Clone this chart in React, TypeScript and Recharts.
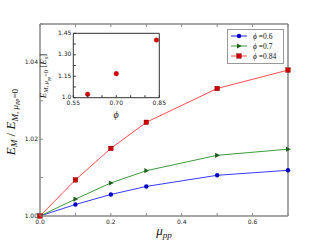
import React from 'react';
import { LineChart, Line, XAxis, YAxis, ScatterChart, Scatter } from 'recharts';

// main plot: E_M / E_M(mu_pp = 0) against mu_pp
const muPP = [0, 0.1, 0.2, 0.3, 0.5, 0.7];
const phi06 = [1.0, 1.003, 1.0056, 1.0077, 1.0106, 1.0119];
const phi07 = [1.0, 1.0044, 1.0086, 1.0118, 1.0158, 1.0174];
const phi084 = [1.0, 1.0094, 1.0176, 1.0244, 1.0332, 1.038];

// inset: E_M at mu_pp = 0 against phi
const insetPhi = [0.6, 0.7, 0.84];
const insetEnergy = [1.024, 1.168, 1.403];

const xTicks = [0, 0.1, 0.2, 0.3, 0.4, 0.5, 0.6, 0.7];
const xTickLabels = ['0.0', '', '0.2', '', '0.4', '', '0.6', ''];
const yTicks = [1.0, 1.01, 1.02, 1.03, 1.04, 1.05];
const yTickLabels = ['1.00', '', '1.02', '', '1.04', ''];
const insetXTicks = [0.55, 0.6, 0.65, 0.7, 0.75, 0.8, 0.85];
const insetXTickLabels = ['0.55', '', '', '0.70', '', '', '0.85'];
const insetYTicks = [1.0, 1.075, 1.15, 1.225, 1.3, 1.375, 1.45];
const insetYTickLabels = ['1.0', '', '1.15', '', '1.30', '', '1.45'];

const data = muPP.map((mu, i) => ({ mu, a: phi06[i], b: phi07[i], c: phi084[i] }));
const insetData = insetPhi.map((phi, i) => ({ phi, e: insetEnergy[i] }));

const SERIES = [
  { key: 'a', label: '0.6', line: '#3a3aff', mark: '#0000c8', shape: 'circle' },
  { key: 'b', label: '0.7', line: '#3c9c3c', mark: '#1c601c', shape: 'triangle' },
  { key: 'c', label: '0.84', line: '#ff4d4d', mark: '#cc0000', shape: 'square' },
];

const tickFont = { fontFamily: 'DejaVu Sans', fontSize: 6, fill: '#222' };
const serif = "'Liberation Serif', 'DejaVu Serif', serif";

const marker = (shape: string, x: number, y: number, color: string) => {
  if (shape === 'circle') return <circle cx={x} cy={y} r={2.2} fill={color} />;
  if (shape === 'triangle')
    return <polygon points={`${x + 2.8},${y} ${x - 2},${y - 2.6} ${x - 2},${y + 2.6}`} fill={color} />;
  return <rect x={x - 2.3} y={y - 2.3} width={4.6} height={4.6} fill={color} stroke="#800000" strokeWidth={0.4} />;
};

const makeDot = (shape: string, color: string) => (props: any) => {
  const { cx, cy, index } = props;
  if (cx == null || cy == null) return <g key={index} />;
  return <g key={index}>{marker(shape, cx, cy, color)}</g>;
};

// ticks drawn inward, labels only where given
const tickFactory = (side: string, ticks: number[], labels: string[], len: number, stroke: string, below = 6.5) => (props: any) => {
  const { x, y, payload } = props;
  const i = ticks.findIndex((t) => Math.abs(t - payload.value) < 1e-6);
  const label = i >= 0 ? labels[i] : '';
  if (side === 'bottom')
    return (
      <g>
        <line x1={x} x2={x} y1={y} y2={y - len} stroke={stroke} />
        {label && <text x={x} y={y + below} textAnchor="middle" {...tickFont}>{label}</text>}
      </g>
    );
  if (side === 'top') return <line x1={x} x2={x} y1={y} y2={y + len} stroke={stroke} />;
  if (side === 'left')
    return (
      <g>
        <line x1={x} x2={x + len} y1={y} y2={y} stroke={stroke} />
        {label && <text x={x - 2} y={y + 1.5} textAnchor="end" {...tickFont}>{label}</text>}
      </g>
    );
  return <line x1={x} x2={x - len} y1={y} y2={y} stroke={stroke} />;
};

const LegendBox = () => (
  <div
    style={{
      position: 'absolute',
      left: 227,
      top: 29,
      width: 57,
      height: 35,
      border: '1.2px solid #999',
      background: '#fff',
      boxSizing: 'border-box',
      padding: '1px 0 0 2px',
    }}
  >
    {SERIES.map((s) => (
      <div key={s.key} style={{ display: 'flex', alignItems: 'center', height: 10 }}>
        <svg width={18} height={8}>
          <line x1={1} x2={17} y1={4} y2={4} stroke={s.key === 'a' ? '#9090ff' : s.line} strokeWidth={s.key === 'a' ? 2 : 1} />
          {marker(s.shape, 9, 4, s.mark)}
        </svg>
        <span style={{ fontFamily: serif, fontSize: 7.5, marginLeft: 5, whiteSpace: 'nowrap', color: '#111' }}>
          <i>ϕ</i> =0.{s.label.slice(2)}
        </span>
      </div>
    ))}
  </div>
);

const subStyle: React.CSSProperties = { fontSize: '0.7em', verticalAlign: '-0.3em' };

export default function App() {
  const frame = '#8a8a8a';
  const ink = '#333';
  return (
    <div style={{ position: 'relative', width: 320, height: 240, background: '#fff' }}>
      <style>{'body{margin:0}'}</style>
      <LineChart width={320} height={240} data={data} margin={{ top: 23, right: 31, bottom: 23, left: 39 }}>
        <XAxis
          xAxisId="b"
          dataKey="mu"
          type="number"
          domain={[0, 0.7]}
          ticks={xTicks}
          height={1}
          tickSize={0}
          tickMargin={0}
          axisLine={{ stroke: frame, strokeWidth: 1.5 }}
          tick={tickFactory('bottom', xTicks, xTickLabels, 3, frame, 7.5)}
          interval={0}
        />
        <XAxis
          xAxisId="t"
          orientation="top"
          dataKey="mu"
          type="number"
          domain={[0, 0.7]}
          ticks={xTicks}
          height={1}
          tickSize={0}
          tickMargin={0}
          axisLine={{ stroke: frame, strokeWidth: 1.5 }}
          tick={tickFactory('top', xTicks, xTickLabels, 3, frame)}
          interval={0}
        />
        <YAxis
          yAxisId="l"
          type="number"
          domain={[1.0, 1.05]}
          ticks={yTicks}
          width={1}
          tickSize={0}
          tickMargin={0}
          axisLine={{ stroke: frame, strokeWidth: 1.5 }}
          tick={tickFactory('left', yTicks, yTickLabels, 3, frame)}
          interval={0}
        />
        <YAxis
          yAxisId="r"
          orientation="right"
          type="number"
          domain={[1.0, 1.05]}
          ticks={yTicks}
          width={1}
          tickSize={0}
          tickMargin={0}
          axisLine={{ stroke: frame, strokeWidth: 1.5 }}
          tick={tickFactory('right', yTicks, yTickLabels, 3, frame)}
          interval={0}
        />
        {SERIES.map((s) => (
          <Line
            key={s.key}
            xAxisId="b"
            yAxisId="l"
            dataKey={s.key}
            stroke={s.line}
            strokeWidth={1}
            dot={makeDot(s.shape, s.mark)}
            activeDot={false}
            isAnimationActive={false}
          />
        ))}
      </LineChart>

      <LegendBox />

      <div style={{ position: 'absolute', left: 40, top: 20 }}>
        <ScatterChart width={130} height={110} margin={{ top: 12.3, right: 9.7, bottom: 31.3, left: 32.3 }}>
          <XAxis
            xAxisId="b"
            dataKey="phi"
            type="number"
            domain={[0.55, 0.85]}
            ticks={insetXTicks}
            height={1}
            tickSize={0}
            tickMargin={0}
            axisLine={{ stroke: ink, strokeWidth: 1 }}
            tick={tickFactory('bottom', insetXTicks, insetXTickLabels, 2.5, ink, 7.5)}
            interval={0}
          />
          <XAxis
            xAxisId="t"
            orientation="top"
            dataKey="phi"
            type="number"
            domain={[0.55, 0.85]}
            ticks={insetXTicks}
            height={1}
            tickSize={0}
            tickMargin={0}
            axisLine={{ stroke: ink, strokeWidth: 1 }}
            tick={tickFactory('top', insetXTicks, insetXTickLabels, 2.5, ink)}
            interval={0}
          />
          <YAxis
            yAxisId="l"
            dataKey="e"
            type="number"
            domain={[1.0, 1.45]}
            ticks={insetYTicks}
            width={1}
            tickSize={0}
            tickMargin={0}
            axisLine={{ stroke: ink, strokeWidth: 1 }}
            tick={tickFactory('left', insetYTicks, insetYTickLabels, 2.5, ink)}
            interval={0}
          />
          <YAxis
            yAxisId="r"
            orientation="right"
            dataKey="e"
            type="number"
            domain={[1.0, 1.45]}
            ticks={insetYTicks}
            width={1}
            tickSize={0}
            tickMargin={0}
            axisLine={{ stroke: ink, strokeWidth: 1 }}
            tick={tickFactory('right', insetYTicks, insetYTickLabels, 2.5, ink)}
            interval={0}
          />
          <Scatter
            xAxisId="b"
            yAxisId="l"
            data={insetData}
            fill="#dd0000"
            shape={(p: any) => <circle cx={p.cx} cy={p.cy} r={2.3} fill="#dd0000" stroke="#990000" strokeWidth={0.4} />}
            isAnimationActive={false}
          />
        </ScatterChart>
      </div>

      {/* axis labels */}
      <div
        style={{
          position: 'absolute',
          left: 12,
          top: 122,
          transform: 'translate(-50%, -50%) rotate(-90deg)',
          fontFamily: serif,
          fontSize: 13,
          whiteSpace: 'nowrap',
          color: '#111',
          lineHeight: 1,
        }}
      >
        <i>E</i><span style={subStyle}><i>M</i></span> / <i>E</i>
        <span style={subStyle}><i>M</i>, <i>μ</i><span style={subStyle}><i>pp</i></span>=0</span>
      </div>
      <div
        style={{
          position: 'absolute',
          left: 164,
          top: 232,
          transform: 'translate(-50%, -50%)',
          fontFamily: serif,
          fontSize: 13,
          whiteSpace: 'nowrap',
          color: '#111',
          lineHeight: 1,
        }}
      >
        <i>μ</i><span style={subStyle}><i>pp</i></span>
      </div>
      <div
        style={{
          position: 'absolute',
          left: 45,
          top: 76,
          transform: 'translate(-50%, -50%) rotate(-90deg)',
          fontFamily: serif,
          fontSize: 9,
          whiteSpace: 'nowrap',
          color: '#111',
          lineHeight: 1,
        }}
      >
        <i>E</i><span style={subStyle}><i>M</i>, <i>μ</i><span style={subStyle}><i>pp</i></span>=0</span> [<i>E</i><span style={subStyle}><i>s</i></span>]
      </div>
      <div
        style={{
          position: 'absolute',
          left: 116,
          top: 115,
          transform: 'translate(-50%, -50%)',
          fontFamily: serif,
          fontSize: 10,
          color: '#111',
          lineHeight: 1,
        }}
      >
        <i>ϕ</i>
      </div>
    </div>
  );
}
